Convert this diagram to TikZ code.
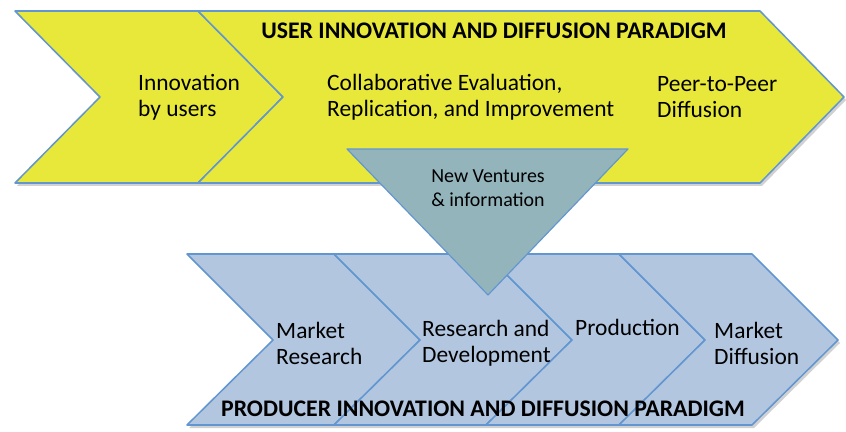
\documentclass[tikz,border=0pt]{standalone}
\usepackage{fontspec}
\setmainfont{Carlito}
\definecolor{userYellow}{RGB}{232,232,58}
\definecolor{prodBlue}{RGB}{178,198,224}
\definecolor{ventTeal}{RGB}{146,180,186}
\definecolor{edgeBlue}{RGB}{98,150,208}
\begin{document}
\begin{tikzpicture}[x=0.03cm,y=-0.03cm,line join=round,line cap=round,
	font=\fontsize{20}{22.2}\selectfont,
	ychev/.style={fill=userYellow,draw=edgeBlue,line width=1.3pt},
	bchev/.style={fill=prodBlue,draw=edgeBlue,line width=1.3pt},
	tri/.style={fill=ventTeal,draw=edgeBlue,line width=1pt},
	shade/.style={fill=black,opacity=0.18},
	lbl/.style={anchor=west,align=left,inner sep=0pt},
	ttl/.style={anchor=base,inner sep=0pt,font=\fontsize{20.3}{22}\selectfont\bfseries}]
		\useasboundingbox (0,0) rectangle (846,432);
		\fill[shade,shift={(2,3)}] (15,11)--(760,11)--(844,97)--(760,183)--(15,183)--(100,97)--cycle;
		\fill[shade,shift={(2,3)}] (187,254)--(752,254)--(838,340)--(752,425)--(187,425)--(273,340)--cycle;
		\draw[ychev] (15,11)--(198,11)--(283,97)--(198,183)--(15,183)--(100,97)--cycle;
		\draw[ychev] (198,11)--(760,11)--(844,97)--(760,183)--(198,183)--(283,97)--cycle;
		\foreach \l/\r in {187/334,334/486,486/619,619/752}
			\draw[bchev] (\l,254)--(\r,254)--(\r+86,340)--(\r,425)--(\l,425)--(\l+86,340)--cycle;
		\draw[tri] (347,149)--(628,149)--(488,295)--cycle;
		\node[ttl] (usertitle) at (494,39) {USER INNOVATION AND DIFFUSION PARADIGM};
		\node[lbl] (innov) at (138,97) {Innovation\\by users};
		\node[lbl] (collab) at (327,97) {Collaborative Evaluation,\\Replication, and Improvement};
		\node[lbl] (peer) at (657,97) {Peer-to-Peer\\Diffusion};
		\node[align=center,inner sep=0pt,font=\fontsize{17}{21}\selectfont] (venture) at (488,188) {New Ventures\\\& information};
		\node[lbl] (mktres) at (276,343) {Market\\Research};
		\node[lbl] (rnd) at (422,343) {Research and\\Development};
		\node[anchor=base west,inner sep=0pt] (prod) at (575,335) {Production};
		\node[lbl] (mktdiff) at (714,343) {Market\\Diffusion};
		\node[ttl] (prodtitle) at (483,416) {PRODUCER INNOVATION AND DIFFUSION PARADIGM};
\end{tikzpicture}
\end{document}
